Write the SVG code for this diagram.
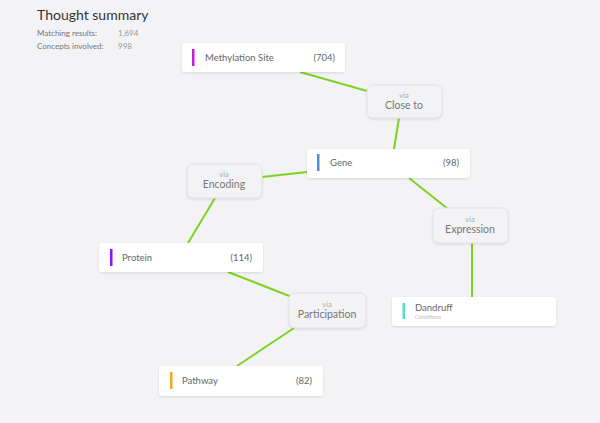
<svg xmlns="http://www.w3.org/2000/svg" width="600" height="423" viewBox="0 0 600 423">
<defs>
<filter id="sh" x="-10%" y="-30%" width="120%" height="170%">
<feDropShadow dx="0" dy="1" stdDeviation="1.2" flood-color="#000" flood-opacity="0.12"/>
</filter>
</defs>
<style>
text{font-family:Lato,"Open Sans","Liberation Sans",sans-serif}
.node{fill:#fff;filter:url(#sh)}
.via{fill:#f3f3f5;stroke:#e2e2e6;stroke-width:1;filter:url(#sh)}
.lbl{font-size:9.5px;fill:#666}
.cnt{font-size:9.5px;fill:#666;text-anchor:end}
.v1{font-size:7.5px;fill:#aaa;text-anchor:middle}
.v2{font-size:10.5px;fill:#777;text-anchor:middle}
.edge{stroke:#7ed321;stroke-width:2;fill:none}
</style>
<rect width="600" height="423" fill="#f3f3f5"/>
<g id="header">
<text x="37" y="20" font-size="14" fill="#333">Thought summary</text>
<text x="37" y="36" font-size="8" fill="#777">Matching results:</text>
<text x="118" y="36" font-size="8" fill="#999">1,694</text>
<text x="37" y="49" font-size="8" fill="#777">Concepts involved:</text>
<text x="118" y="49" font-size="8" fill="#999">998</text>
</g>
<g id="connectors">
<line class="edge" x1="300" y1="72" x2="367" y2="91"/>
<line class="edge" x1="399" y1="118" x2="394" y2="149"/>
<line class="edge" x1="307" y1="172" x2="262" y2="177"/>
<line class="edge" x1="215" y1="198" x2="188" y2="243"/>
<line class="edge" x1="409" y1="178" x2="448" y2="209"/>
<line class="edge" x1="472" y1="243" x2="472" y2="297"/>
<line class="edge" x1="228" y1="272" x2="292" y2="297"/>
<line class="edge" x1="294" y1="328" x2="237" y2="366"/>
</g>
<g id="methylation">
<rect class="node" x="182" y="43" width="163" height="29" rx="3"/>
<rect x="192" y="49" width="2.5" height="17" fill="#c21cd8"/>
<text class="lbl" x="205" y="60.5">Methylation Site</text>
<text class="cnt" x="335" y="60.5">(704)</text>
</g>
<g id="closeto">
<rect class="via" x="367" y="85" width="75" height="33" rx="6"/>
<text class="v1" x="404" y="98">via</text>
<text class="v2" x="404" y="109">Close to</text>
</g>
<g id="gene">
<rect class="node" x="307" y="149" width="163" height="29" rx="3"/>
<rect x="317" y="154" width="2.5" height="17" fill="#4a90e2"/>
<text class="lbl" x="330" y="166">Gene</text>
<text class="cnt" x="459" y="166">(98)</text>
</g>
<g id="encoding">
<rect class="via" x="187" y="164" width="75" height="34" rx="6"/>
<text class="v1" x="224" y="177">via</text>
<text class="v2" x="224" y="188">Encoding</text>
</g>
<g id="expression">
<rect class="via" x="433" y="208" width="75" height="35" rx="6"/>
<text class="v1" x="470" y="222">via</text>
<text class="v2" x="470" y="233">Expression</text>
</g>
<g id="protein">
<rect class="node" x="99" y="243" width="164" height="29" rx="3"/>
<rect x="110" y="249" width="2.5" height="17" fill="#9013fe"/>
<text class="lbl" x="122" y="260.5">Protein</text>
<text class="cnt" x="252" y="260.5">(114)</text>
</g>
<g id="dandruff">
<rect class="node" x="392" y="297" width="164" height="29" rx="3"/>
<rect x="402.5" y="303" width="2.5" height="16" fill="#50e3c2"/>
<text class="lbl" x="415" y="311">Dandruff</text>
<text x="415" y="318.5" font-size="5.5" fill="#bbb">Conditions</text>
</g>
<g id="participation">
<rect class="via" x="289" y="293" width="77" height="35" rx="6"/>
<text class="v1" x="327" y="307">via</text>
<text class="v2" x="327" y="318">Participation</text>
</g>
<g id="pathway">
<rect class="node" x="159" y="366" width="164" height="30" rx="3"/>
<rect x="170" y="372" width="2.5" height="17" fill="#f5a623"/>
<text class="lbl" x="182" y="384">Pathway</text>
<text class="cnt" x="312" y="384">(82)</text>
</g>
</svg>
